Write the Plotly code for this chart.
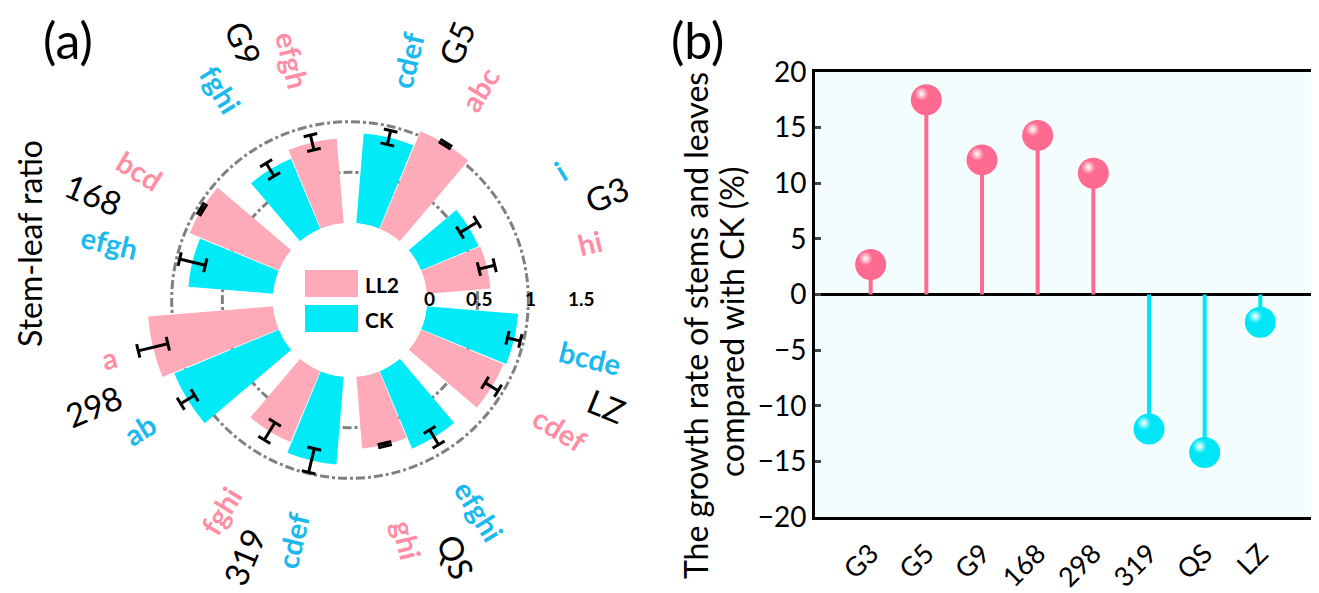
import math
import plotly.graph_objects as go

# target picture size and page offset (the page body adds an 8px margin)
W_IMG, H_IMG = 1319, 593
OFF = 8
W, H = W_IMG - OFF, H_IMG - OFF

# ---------------- data ----------------
genotypes = ["G3", "G5", "G9", "168", "298", "319", "QS", "LZ"]
series_names = ["LL2", "CK"]
ll2_ratio = [0.63, 1.045, 0.84, 0.955, 1.24, 0.76, 0.71, 0.88]
ck_ratio = [0.615, 0.89, 0.75, 0.84, 1.12, 0.87, 0.83, 0.905]
ll2_err = [0.08, 0.015, 0.075, 0.015, 0.15, 0.10, 0.015, 0.075]
ck_err = [0.10, 0.07, 0.075, 0.13, 0.08, 0.12, 0.085, 0.065]
ll2_letters = ["hi", "abc", "efgh", "bcd", "a", "fghi", "ghi", "cdef"]
ck_letters = ["i", "cdef", "fghi", "efgh", "ab", "cdef", "efghi", "bcde"]
radial_ticks = [0, 0.5, 1, 1.5]
growth_rate = [2.7, 17.5, 12.1, 14.3, 10.9, -12.1, -14.2, -2.5]
y_ticks_b = [-20, -15, -10, -5, 0, 5, 10, 15, 20]

# ---------------- styles ----------------
FONT = "Lato"
PINK_BAR = "#FFAAB9"
CYAN_BAR = "#00EAF8"
PINK_TXT = "#FF8DA3"
CYAN_TXT = "#1BB9EE"
PINK_LOLLI = "#FF6A91"
CYAN_LOLLI = "#00E6F6"
GRID = "#808080"


def px_x(X):
    return (X - OFF) / W


def px_y(Y):
    return 1 - (Y - OFF) / H


# polar geometry (picture pixels)
CX, CY = 350, 300
R_OUT = 229                # radius of r = 1.5
HOLE_PX = 77               # radius of r = 0
R_MAX = 1.5
GROUP = 45.0
BAR_W = 17.6


def r_px(v):
    return HOLE_PX + v / R_MAX * (R_OUT - HOLE_PX)


def to_paper(rp, ang):
    a = math.radians(ang)
    return px_x(CX + rp * math.cos(a)), px_y(CY - rp * math.sin(a))


def radial_textangle(ang):
    ang = ang % 360
    if 90 < ang < 270:
        return 180 - ang
    t = -ang
    if t < -180:
        t += 360
    return t


theta_ll2 = [GROUP * k + 13.5 for k in range(len(genotypes))]
theta_ck = [GROUP * k + 31.5 for k in range(len(genotypes))]

fig = go.Figure()

fig.add_trace(go.Barpolar(r=ll2_ratio, theta=theta_ll2, width=[BAR_W] * 8,
                          marker=dict(color=PINK_BAR, line=dict(width=0)),
                          name=series_names[0], showlegend=False))
fig.add_trace(go.Barpolar(r=ck_ratio, theta=theta_ck, width=[BAR_W] * 8,
                          marker=dict(color=CYAN_BAR, line=dict(width=0)),
                          name=series_names[1], showlegend=False))

# error bars
CAP_HALF = 7
er_r, er_t = [], []
for vals, errs, thetas in ((ll2_ratio, ll2_err, theta_ll2), (ck_ratio, ck_err, theta_ck)):
    for v, e, t in zip(vals, errs, thetas):
        lo, hi = v - e, v + e
        er_r += [lo, hi, None]
        er_t += [t, t, None]
        for rr in (lo, hi):
            d = math.degrees(math.atan(CAP_HALF / r_px(rr)))
            er_r += [rr, rr, None]
            er_t += [t - d, t + d, None]
fig.add_trace(go.Scatterpolar(r=er_r, theta=er_t, mode="lines",
                              line=dict(color="black", width=3),
                              showlegend=False, hoverinfo="skip"))

# ---------------- lollipop panel ----------------
xs = list(range(len(genotypes)))
for sign, col in ((1, PINK_LOLLI), (-1, CYAN_LOLLI)):
    sx, sy = [], []
    for i, v in zip(xs, growth_rate):
        if (v > 0) == (sign > 0):
            sx += [i, i, None]
            sy += [0, v, None]
    fig.add_trace(go.Scatter(x=sx, y=sy, mode="lines", line=dict(color=col, width=4),
                             showlegend=False, hoverinfo="skip"))

cols = [PINK_LOLLI if v > 0 else CYAN_LOLLI for v in growth_rate]
fig.add_trace(go.Scatter(x=xs, y=growth_rate, mode="markers",
                         marker=dict(size=31, color=cols, line=dict(width=0)),
                         showlegend=False))
# highlights
PLOT_TOP, PLOT_BOT, PLOT_L, PLOT_R = 72, 517, 815, 1316
dy = 6 * 40 / (PLOT_BOT - PLOT_TOP)
dx = 5 * 9 / (PLOT_R - PLOT_L)
fig.add_trace(go.Scatter(x=[i - dx for i in xs], y=[v + dy for v in growth_rate], mode="markers",
                         marker=dict(size=14, color=cols, line=dict(width=0),
                                     gradient=dict(type="radial", color="white")),
                         showlegend=False, hoverinfo="skip"))

# ---------------- layout ----------------
ann = []


def add_ann(x, y, text, **kw):
    d = dict(x=x, y=y, xref="paper", yref="paper", text=text, showarrow=False,
             xanchor="center", yanchor="middle", borderpad=0)
    d.update(kw)
    ann.append(d)


add_ann(px_x(68), px_y(40), "(a)", font=dict(family=FONT, size=50, color="black"))
add_ann(px_x(697), px_y(40), "(b)", font=dict(family=FONT, size=50, color="black"))
add_ann(px_x(29), px_y(244), "Stem-leaf ratio", textangle=-90,
        font=dict(family=FONT, size=32, color="black"))
add_ann(px_x(695), px_y(326), "The growth rate of stems and leaves", textangle=-90,
        font=dict(family=FONT, size=32, color="black"))
add_ann(px_x(731), px_y(322), "compared with CK (%)", textangle=-90,
        font=dict(family=FONT, size=32, color="black"))

# genotype labels
for k, g in enumerate(genotypes):
    ang = GROUP * k + GROUP / 2
    px_, py_ = to_paper(278, ang)
    add_ann(px_, py_, g, textangle=radial_textangle(ang),
            font=dict(family=FONT, size=33, color="black"))
# significance letters
for letters, thetas, col in ((ll2_letters, theta_ll2, PINK_TXT), (ck_letters, theta_ck, CYAN_TXT)):
    for txt, t in zip(letters, thetas):
        px_, py_ = to_paper(247, t)
        add_ann(px_, py_, "<b>%s</b>" % txt, textangle=radial_textangle(t),
                font=dict(family=FONT, size=29, color=col))
# radial tick labels
for v in radial_ticks:
    px_, py_ = to_paper(r_px(v), 0)
    add_ann(px_ + 2 / W, py_ + 2 / H, "<b>%g</b>" % v,
            font=dict(family=FONT, size=19, color="black"))

# legend inside hole
shapes = []
for j, (nm, col) in enumerate(zip(series_names, (PINK_BAR, CYAN_BAR))):
    y0 = 270 + j * 35
    shapes.append(dict(type="rect", xref="paper", yref="paper",
                       x0=px_x(305), x1=px_x(358), y0=px_y(y0 + 27), y1=px_y(y0),
                       fillcolor=col, line=dict(width=0)))
    add_ann(px_x(364), px_y(y0 + 14), "<b>%s</b>" % nm, xanchor="left",
            font=dict(family=FONT, size=21, color="black"))

fig.update_layout(
    width=W, height=H,
    margin=dict(l=0, r=0, t=0, b=0, autoexpand=False),
    paper_bgcolor="white",
    plot_bgcolor="#F4FDFE",
    font=dict(family=FONT, color="black"),
    showlegend=False,
    polar=dict(
        domain=dict(x=[px_x(CX - R_OUT), px_x(CX + R_OUT)],
                    y=[px_y(CY + R_OUT), px_y(CY - R_OUT)]),
        hole=HOLE_PX / R_OUT,
        bgcolor="white",
        radialaxis=dict(range=[0, R_MAX], tickvals=[0, 0.5, 1], showticklabels=False,
                        ticks="", showline=False, showgrid=True, gridcolor=GRID,
                        griddash="dashdot", gridwidth=2.5),
        angularaxis=dict(direction="counterclockwise", rotation=0, showgrid=False,
                         showticklabels=False, ticks="", showline=False),
    ),
    xaxis=dict(domain=[px_x(PLOT_L), px_x(PLOT_R)], range=[-1, 8], tickvals=xs, ticktext=genotypes,
               tickangle=-45, ticks="", showline=True, mirror=True, linewidth=3, linecolor="black",
               showgrid=False, zeroline=False, automargin=False, ticklabelstandoff=7,
               tickfont=dict(family=FONT, size=27, color="black")),
    yaxis=dict(domain=[px_y(PLOT_BOT), px_y(PLOT_TOP)], range=[-20, 20], tickvals=y_ticks_b,
               ticks="inside", ticklen=6, tickwidth=2.5, showline=True, mirror=True, linewidth=3,
               linecolor="black", showgrid=False, zeroline=True, zerolinewidth=3, automargin=False,
               zerolinecolor="black", tickfont=dict(family=FONT, size=28, color="black")),
    annotations=ann,
    shapes=shapes,
)

fig.write_html("out.html")
